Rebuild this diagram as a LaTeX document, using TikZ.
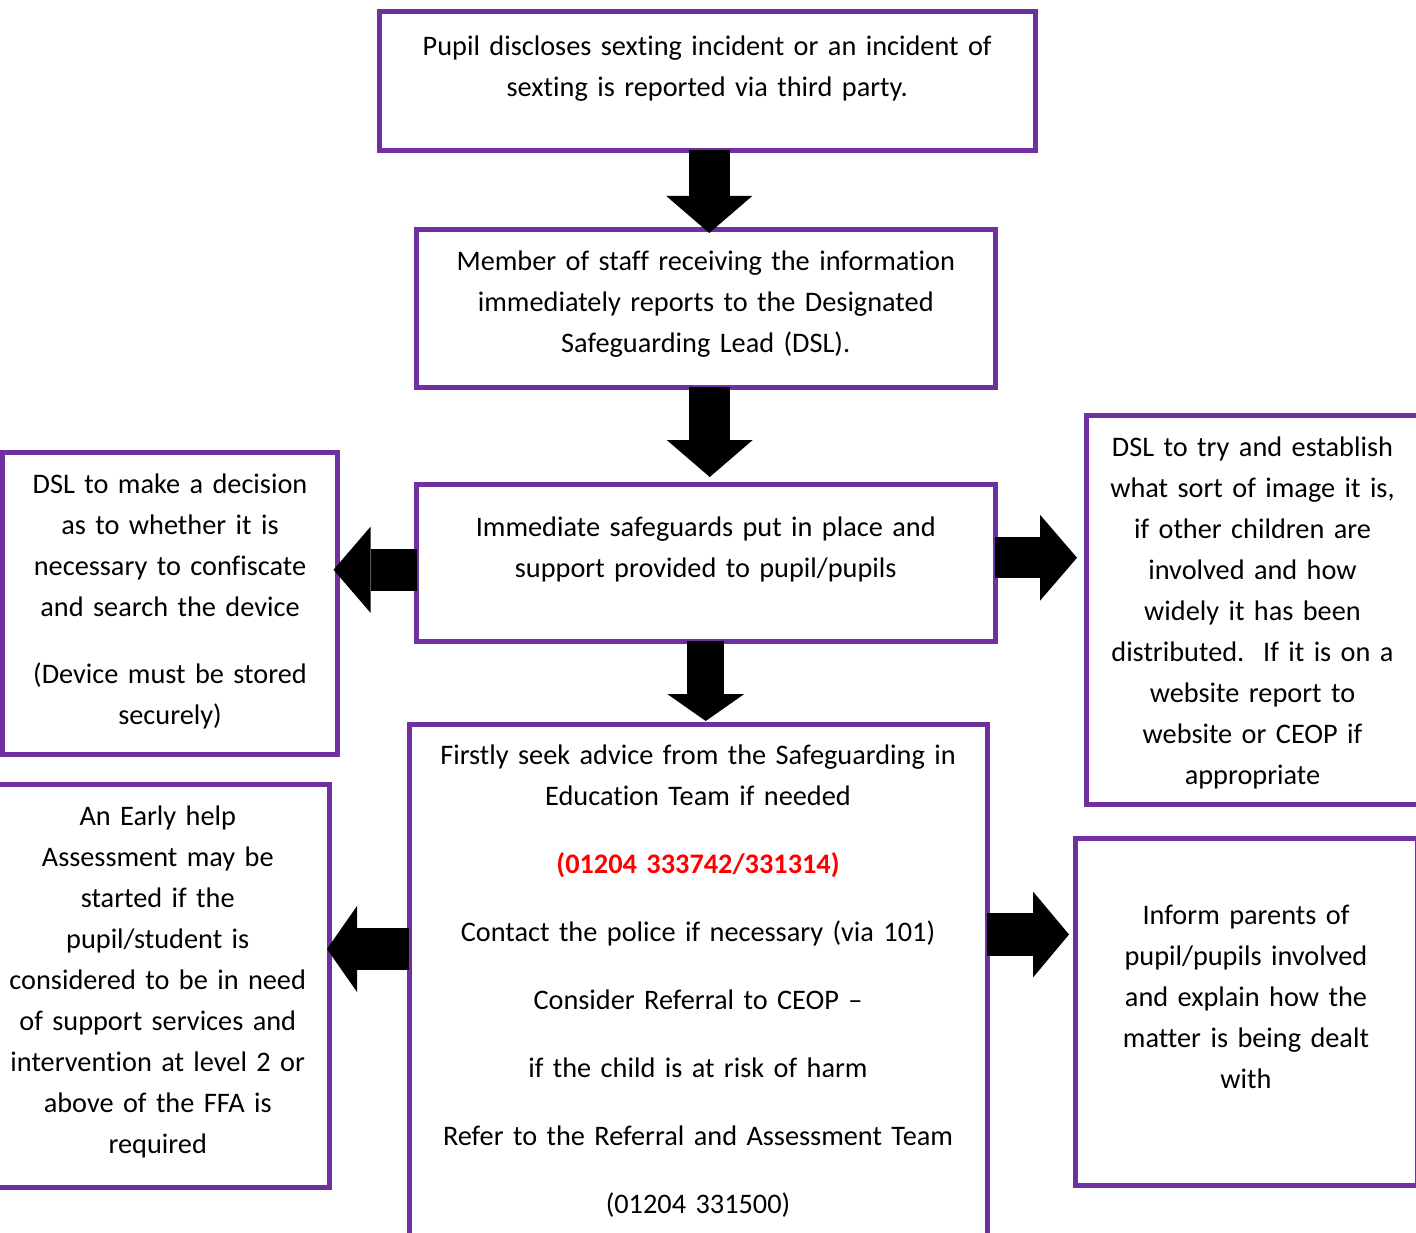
\documentclass[tikz,border=0pt]{standalone}
\usepackage{fontspec}
\setmainfont{Carlito}[Ligatures={NoCommon}]
\usetikzlibrary{arrows.meta,positioning}
\definecolor{boxpurple}{HTML}{7030A0}
\definecolor{phonered}{HTML}{FF0000}
\tikzset{
  box/.style={draw=boxpurple,line width=5pt,inner sep=0,outer sep=0},
  txt/.style={align=center,inner sep=0,outer sep=0,font=\fontsize{28.3}{41}\selectfont},
  bigarrow/.style={line width=41pt,-{Triangle[width=86pt,length=37pt,line width=0pt]}}
}
\begin{document}
\begin{tikzpicture}[x=1pt,y=-1pt]
\useasboundingbox (0,0) rectangle (1416,1233);
\node (pupil) at (707.25,81) [box,minimum width=655.5pt,minimum height=139pt] {};
\node (staff) at (705.75,308.5) [box,minimum width=578.5pt,minimum height=157pt] {};
\node (safe) at (705.75,562.75) [box,minimum width=578.5pt,minimum height=156.5pt] {};
\node (decide) at (170,603.5) [box,minimum width=335pt,minimum height=302pt] {};
\node (establish) at (1252.5,610) [box,minimum width=332pt,minimum height=389pt] {};
\node (advice) at (698,979.5) [box,minimum width=578pt,minimum height=511pt] {};
\node (earlyhelp) at (157.75,985.5) [box,minimum width=343.5pt,minimum height=403pt] {};
\node (parents) at (1246,1012) [box,minimum width=342pt,minimum height=347pt] {};

\node (pupiltxt) [txt,text width=640pt,below=24.5pt of pupil.north] {Pupil discloses sexting incident or an incident of\\sexting is reported via third party.};
\node (stafftxt) [txt,text width=560pt,below=21pt of staff.north] {Member of staff receiving the information\\immediately reports to the Designated\\Safeguarding Lead (DSL).};
\node (safetxt) [txt,text width=560pt,below=32.5pt of safe.north] {Immediate safeguards put in place and\\support provided to pupil/pupils};
\node (decidetxt) [txt,text width=325pt,below=21pt of decide.north] {DSL to make a decision\\as to whether it is\\necessary to confiscate\\and search the device\\[26pt](Device must be stored\\securely)};
\node (establishtxt) [txt,text width=325pt,below=21.5pt of establish.north] {DSL to try and establish\\what sort of image it is,\\if other children are\\involved and how\\widely it has been\\distributed.\ \ If it is on a\\website report to\\website or CEOP if\\appropriate};
\node (advicetxt) [txt,text width=560pt,below=21pt of advice.north] {Firstly seek advice from the Safeguarding in\\Education Team if needed\\[27pt]{\color{phonered}\bfseries(01204 333742/331314)}\\[27pt]Contact the police if necessary (via 101)\\[27pt]Consider Referral to CEOP –\\[27pt]if the child is at risk of harm\\[27pt]Refer to the Referral and Assessment Team\\[27pt](01204 331500)};
\node (earlyhelptxt) [txt,text width=330pt,below=22pt of earlyhelp.north] {An Early help\\Assessment may be\\started if the\\pupil/student is\\considered to be in need\\of support services and\\intervention at level 2 or\\above of the FFA is\\required};
\node (parentstxt) [txt,text width=330pt,below=66.5pt of parents.north] {Inform parents of\\pupil/pupils involved\\and explain how the\\matter is being dealt\\with};

\draw[bigarrow,shorten >=-3pt] ([xshift=2pt]pupil.south) -- ([xshift=2pt]pupil.south |- staff.north);
\draw[bigarrow,shorten >=7.5pt] ([xshift=4pt]staff.south) -- ([xshift=4pt]staff.south |- safe.north);
\draw[bigarrow,line width=42pt,shorten >=-4pt] ([yshift=-7pt]safe.west) -- ([yshift=-7pt]safe.west -| decide.east);
\draw[bigarrow,shorten >=9.5pt] ([yshift=5pt]safe.east) -- ([yshift=5pt]safe.east -| establish.west);
\draw[bigarrow,line width=37pt,-{Triangle[width=77pt,length=27pt,line width=0pt]},shorten >=3pt] (safe.south) -- (safe.south |- advice.north);
\draw[bigarrow,line width=42pt,-{Triangle[width=86pt,length=30pt,line width=0pt]},shorten >=-2.5pt] ([yshift=30.5pt]advice.west) -- ([yshift=30.5pt]advice.west -| earlyhelp.east);
\draw[bigarrow,line width=43pt,-{Triangle[width=86pt,length=36pt,line width=0pt]},shorten >=6pt] ([yshift=45pt]advice.east) -- ([yshift=45pt]advice.east -| parents.west);
\end{tikzpicture}
\end{document}
